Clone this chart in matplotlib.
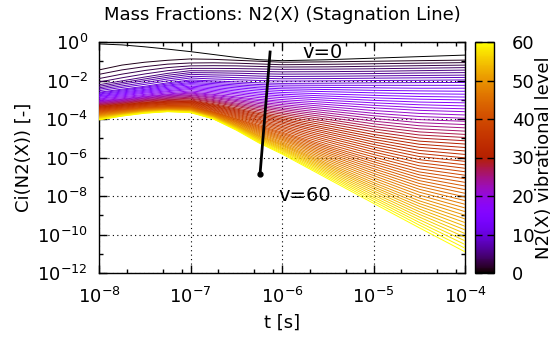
import numpy as np
import matplotlib
matplotlib.use("Agg")
import matplotlib.pyplot as plt
import matplotlib.ticker as ticker
from matplotlib.colors import Normalize
from matplotlib.cm import ScalarMappable

# sampling times, log10(t [s])
log_t = [-8.0, -7.75, -7.5, -7.25, -7.0, -6.75, -6.5, -6.25, -6.0, -5.5, -5.0, -4.5, -4.0]

# log10 Ci(N2(X)) for v = 0..60, one list per sampling time
lc_800 = [-0.10, -1.45, -1.68, -1.90, -2.08, -2.22, -2.30, -2.38, -2.45, -2.53, -2.61,
          -2.65, -2.70, -2.74, -2.79, -2.83, -2.87, -2.92, -2.96, -3.01, -3.05,
          -3.08, -3.11, -3.14, -3.17, -3.20, -3.23, -3.26, -3.29, -3.32, -3.35,
          -3.38, -3.40, -3.43, -3.45, -3.48, -3.50, -3.53, -3.55, -3.58, -3.60,
          -3.63, -3.65, -3.68, -3.70, -3.73, -3.75, -3.78, -3.80, -3.83, -3.85,
          -3.87, -3.89, -3.91, -3.93, -3.95, -3.97, -3.99, -4.01, -4.03, -4.05]
lc_775 = [-0.15, -1.20, -1.45, -1.67, -1.86, -2.02, -2.11, -2.19, -2.28, -2.36, -2.45,
          -2.50, -2.55, -2.60, -2.65, -2.70, -2.75, -2.80, -2.85, -2.90, -2.95,
          -2.98, -3.01, -3.04, -3.07, -3.10, -3.13, -3.16, -3.19, -3.22, -3.25,
          -3.28, -3.30, -3.33, -3.35, -3.38, -3.40, -3.43, -3.45, -3.48, -3.50,
          -3.52, -3.54, -3.56, -3.58, -3.60, -3.62, -3.64, -3.66, -3.68, -3.70,
          -3.72, -3.73, -3.75, -3.76, -3.78, -3.79, -3.81, -3.82, -3.84, -3.85]
lc_750 = [-0.25, -1.05, -1.28, -1.48, -1.66, -1.82, -1.92, -2.01, -2.11, -2.20, -2.30,
          -2.35, -2.40, -2.46, -2.51, -2.56, -2.61, -2.66, -2.72, -2.77, -2.82,
          -2.85, -2.89, -2.92, -2.95, -2.99, -3.02, -3.05, -3.08, -3.12, -3.15,
          -3.18, -3.20, -3.23, -3.25, -3.28, -3.30, -3.33, -3.35, -3.38, -3.40,
          -3.42, -3.43, -3.45, -3.47, -3.49, -3.50, -3.52, -3.54, -3.55, -3.57,
          -3.58, -3.60, -3.61, -3.62, -3.64, -3.65, -3.66, -3.67, -3.69, -3.70]
lc_725 = [-0.37, -0.95, -1.15, -1.33, -1.49, -1.63, -1.73, -1.83, -1.92, -2.02, -2.12,
          -2.18, -2.24, -2.29, -2.35, -2.41, -2.47, -2.53, -2.58, -2.64, -2.70,
          -2.74, -2.78, -2.81, -2.85, -2.89, -2.93, -2.97, -3.00, -3.04, -3.08,
          -3.11, -3.13, -3.16, -3.19, -3.22, -3.24, -3.27, -3.30, -3.32, -3.35,
          -3.37, -3.38, -3.40, -3.42, -3.44, -3.45, -3.47, -3.49, -3.50, -3.52,
          -3.53, -3.54, -3.55, -3.56, -3.57, -3.58, -3.59, -3.60, -3.61, -3.62]
lc_700 = [-0.50, -0.88, -1.09, -1.24, -1.37, -1.49, -1.59, -1.68, -1.78, -1.87, -1.97,
          -2.03, -2.10, -2.16, -2.22, -2.29, -2.35, -2.41, -2.47, -2.54, -2.60,
          -2.65, -2.69, -2.74, -2.78, -2.83, -2.87, -2.92, -2.96, -3.01, -3.05,
          -3.08, -3.11, -3.14, -3.17, -3.20, -3.23, -3.26, -3.29, -3.32, -3.35,
          -3.37, -3.39, -3.41, -3.43, -3.45, -3.47, -3.49, -3.51, -3.53, -3.55,
          -3.56, -3.57, -3.58, -3.59, -3.61, -3.62, -3.63, -3.64, -3.65, -3.67]
lc_675 = [-0.65, -0.90, -1.08, -1.23, -1.37, -1.50, -1.60, -1.71, -1.81, -1.92, -2.02,
          -2.09, -2.16, -2.23, -2.30, -2.37, -2.44, -2.51, -2.58, -2.65, -2.72,
          -2.77, -2.83, -2.88, -2.93, -2.99, -3.04, -3.09, -3.14, -3.20, -3.25,
          -3.29, -3.33, -3.36, -3.40, -3.44, -3.48, -3.52, -3.55, -3.59, -3.63,
          -3.65, -3.67, -3.70, -3.72, -3.74, -3.76, -3.78, -3.81, -3.83, -3.85,
          -3.87, -3.88, -3.90, -3.91, -3.93, -3.94, -3.96, -3.97, -3.99, -4.00]
lc_650 = [-0.80, -0.95, -1.10, -1.24, -1.38, -1.51, -1.62, -1.73, -1.85, -1.96, -2.07,
          -2.15, -2.23, -2.30, -2.38, -2.46, -2.54, -2.62, -2.69, -2.77, -2.85,
          -2.91, -2.98, -3.04, -3.10, -3.17, -3.23, -3.29, -3.35, -3.42, -3.48,
          -3.53, -3.58, -3.63, -3.68, -3.73, -3.78, -3.83, -3.88, -3.93, -3.98,
          -4.01, -4.05, -4.08, -4.12, -4.15, -4.18, -4.22, -4.25, -4.29, -4.32,
          -4.35, -4.37, -4.40, -4.42, -4.45, -4.48, -4.50, -4.53, -4.55, -4.58]
lc_625 = [-0.92, -1.00, -1.14, -1.27, -1.40, -1.53, -1.65, -1.77, -1.88, -2.00, -2.12,
          -2.21, -2.29, -2.38, -2.46, -2.55, -2.64, -2.72, -2.81, -2.89, -2.98,
          -3.05, -3.13, -3.20, -3.28, -3.35, -3.42, -3.50, -3.57, -3.65, -3.72,
          -3.78, -3.85, -3.91, -3.97, -4.04, -4.10, -4.16, -4.22, -4.29, -4.35,
          -4.40, -4.45, -4.50, -4.55, -4.60, -4.65, -4.70, -4.75, -4.80, -4.85,
          -4.89, -4.93, -4.97, -5.01, -5.05, -5.09, -5.13, -5.17, -5.21, -5.25]
lc_600 = [-0.97, -1.05, -1.18, -1.30, -1.42, -1.55, -1.67, -1.79, -1.91, -2.03, -2.15,
          -2.24, -2.34, -2.43, -2.52, -2.62, -2.71, -2.80, -2.89, -2.99, -3.08,
          -3.16, -3.25, -3.33, -3.42, -3.50, -3.58, -3.67, -3.75, -3.84, -3.92,
          -4.00, -4.07, -4.15, -4.22, -4.30, -4.38, -4.45, -4.53, -4.60, -4.68,
          -4.74, -4.80, -4.87, -4.93, -4.99, -5.05, -5.11, -5.18, -5.24, -5.30,
          -5.35, -5.40, -5.46, -5.51, -5.56, -5.61, -5.66, -5.72, -5.77, -5.82]
lc_550 = [-0.92, -1.03, -1.16, -1.29, -1.41, -1.54, -1.66, -1.78, -1.90, -2.02, -2.14,
          -2.25, -2.36, -2.47, -2.58, -2.70, -2.81, -2.92, -3.03, -3.14, -3.25,
          -3.36, -3.47, -3.58, -3.69, -3.80, -3.91, -4.02, -4.13, -4.24, -4.35,
          -4.46, -4.56, -4.67, -4.77, -4.88, -4.98, -5.09, -5.19, -5.30, -5.40,
          -5.49, -5.58, -5.67, -5.76, -5.85, -5.94, -6.03, -6.12, -6.21, -6.30,
          -6.38, -6.46, -6.54, -6.62, -6.70, -6.78, -6.86, -6.94, -7.02, -7.10]
lc_500 = [-0.84, -1.00, -1.13, -1.26, -1.39, -1.52, -1.64, -1.76, -1.88, -2.00, -2.12,
          -2.25, -2.38, -2.51, -2.64, -2.77, -2.90, -3.03, -3.16, -3.29, -3.42,
          -3.56, -3.70, -3.83, -3.97, -4.11, -4.25, -4.39, -4.52, -4.66, -4.80,
          -4.93, -5.06, -5.19, -5.32, -5.45, -5.58, -5.71, -5.84, -5.97, -6.10,
          -6.22, -6.34, -6.46, -6.58, -6.70, -6.82, -6.94, -7.06, -7.18, -7.30,
          -7.41, -7.52, -7.62, -7.73, -7.84, -7.95, -8.06, -8.16, -8.27, -8.38]
lc_450 = [-0.76, -0.97, -1.10, -1.23, -1.36, -1.49, -1.61, -1.74, -1.86, -1.99, -2.11,
          -2.25, -2.40, -2.54, -2.69, -2.83, -2.97, -3.12, -3.26, -3.41, -3.55,
          -3.71, -3.87, -4.03, -4.19, -4.35, -4.51, -4.67, -4.83, -4.99, -5.15,
          -5.31, -5.47, -5.63, -5.79, -5.95, -6.11, -6.27, -6.43, -6.59, -6.75,
          -6.90, -7.05, -7.20, -7.35, -7.50, -7.65, -7.80, -7.95, -8.10, -8.25,
          -8.39, -8.53, -8.67, -8.81, -8.95, -9.09, -9.23, -9.37, -9.51, -9.65]
lc_400 = [-0.68, -0.94, -1.07, -1.20, -1.33, -1.46, -1.59, -1.72, -1.84, -1.97, -2.10,
          -2.25, -2.40, -2.56, -2.71, -2.86, -3.01, -3.16, -3.32, -3.47, -3.62,
          -3.79, -3.96, -4.12, -4.29, -4.46, -4.63, -4.80, -4.96, -5.13, -5.30,
          -5.48, -5.66, -5.84, -6.02, -6.20, -6.38, -6.56, -6.74, -6.92, -7.10,
          -7.29, -7.48, -7.67, -7.86, -8.05, -8.24, -8.43, -8.62, -8.81, -9.00,
          -9.19, -9.38, -9.57, -9.76, -9.95, -10.14, -10.33, -10.52, -10.71, -10.90]

levels = list(range(61))

# pointer line drawn between the v=0 and v=60 labels (log10 t, log10 Ci)
pointer_log_t = [-6.13, -6.24]
pointer_log_c = [-0.52, -6.86]
label_v0 = (-5.56, -0.56)
label_v60 = (-5.75, -7.95)

xticks = [1e-8, 1e-7, 1e-6, 1e-5, 1e-4]
yticks = [1e0, 1e-2, 1e-4, 1e-6, 1e-8, 1e-10, 1e-12]
yminor = [1e-1, 1e-3, 1e-5, 1e-7, 1e-9, 1e-11]
cbar_ticks = [0, 10, 20, 30, 40, 50, 60]

plt.rcParams["font.family"] = "DejaVu Sans"
plt.rcParams["font.size"] = 13
plt.rcParams["axes.linewidth"] = 1.0

fig = plt.figure(figsize=(5.55, 3.38), dpi=100)
ax = fig.add_axes([99 / 555, 65 / 338, 366 / 555, 231 / 338])
cax = fig.add_axes([475 / 555, 65 / 338, 19 / 555, 231 / 338])

cmap = plt.get_cmap("gnuplot")
norm = Normalize(vmin=0, vmax=60)

profiles = np.array([lc_800, lc_775, lc_750, lc_725, lc_700, lc_675, lc_650,
                     lc_625, lc_600, lc_550, lc_500, lc_450, lc_400])
t = 10.0 ** np.array(log_t)

for v in levels:
    ax.plot(t, 10.0 ** profiles[:, v], color=cmap(norm(v)), lw=0.7, zorder=3)

# pointer from v=0 to v=60
ax.plot(10.0 ** np.array(pointer_log_t), 10.0 ** np.array(pointer_log_c),
        color="black", lw=2, zorder=5)
ax.plot(10.0 ** pointer_log_t[1], 10.0 ** pointer_log_c[1], "o",
        color="black", ms=3.5, zorder=5)
ax.text(10.0 ** label_v0[0], 10.0 ** label_v0[1], "v=0", fontsize=14,
        ha="center", va="center", zorder=6)
ax.text(10.0 ** label_v60[0], 10.0 ** label_v60[1], "v=60", fontsize=14,
        ha="center", va="center", zorder=6)

ax.set_xscale("log")
ax.set_yscale("log")
ax.set_xlim(1e-8, 1e-4)
ax.set_ylim(1e-12, 1e0)
ax.set_xticks(xticks)
ax.set_yticks(yticks)
ax.set_yticks(yminor, minor=True)
ax.yaxis.set_minor_formatter(ticker.NullFormatter())
ax.xaxis.set_minor_locator(ticker.LogLocator(base=10, subs=(2, 5, 8)))
ax.xaxis.set_minor_formatter(ticker.NullFormatter())
ax.tick_params(which="both", direction="in", top=True, right=True, labelsize=13)
ax.tick_params(which="major", length=6, width=1)
ax.tick_params(which="minor", length=3, width=1)
ax.tick_params(axis="x", which="major", pad=10)
ax.tick_params(axis="y", which="major", pad=8)
ax.grid(True, which="major", color="black", linestyle=(0, (1, 3)), lw=0.8, zorder=1)

ax.set_xlabel("t [s]", fontsize=13, labelpad=5)
ax.set_ylabel("Ci(N2(X)) [-]", fontsize=13, labelpad=3)
fig.text(282 / 555, 1 - 15 / 338, "Mass Fractions: N2(X) (Stagnation Line)",
         ha="center", va="center", fontsize=13)

sm = ScalarMappable(norm=norm, cmap=cmap)
cb = fig.colorbar(sm, cax=cax, ticks=cbar_ticks)
cb.outline.set_linewidth(1.0)
cax.tick_params(direction="in", length=5, width=1, left=True, right=True,
                labelsize=13, color="black", pad=13)
cb.set_label("N2(X) vibrational level", fontsize=13, labelpad=0)

fig.savefig("out.png", dpi=100)
